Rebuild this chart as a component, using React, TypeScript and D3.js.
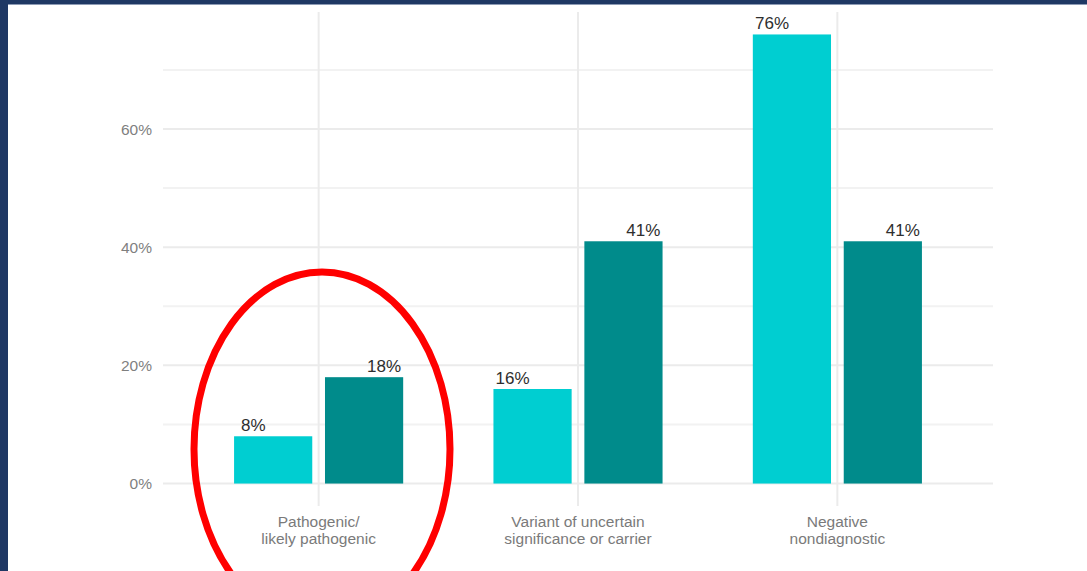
import React from "react";
import * as d3 from "d3";

const categories = ["Pathogenic/\nlikely pathogenic", "Variant of uncertain\nsignificance or carrier", "Negative\nnondiagnostic"];
const seriesNames = ["Group 1", "Group 2"];
const series1 = [8, 16, 76];
const series2 = [18, 41, 41];
const yMajorTicks = [0, 20, 40, 60];
const yMinorTicks = [10, 30, 50, 70];
const colors = ["#00CED1", "#008B8B"];

const W = 1087;
const H = 571;
const plotL = 163;
const plotR = 993;
const plotT = 12;
const plotB = 506;

export default function App() {
  const values = [series1, series2];
  const yMax = d3.max([...series1, ...series2]) as number;
  const pad = yMax * 0.05;
  const y = d3.scaleLinear().domain([-pad, yMax + pad]).range([plotB, plotT]);
  const x = d3.scalePoint<string>().domain(categories).range([plotL, plotR]).padding(0.6);
  const step = x.step();
  const sub = d3.scaleBand<string>().domain(seriesNames).range([-0.326 * step, 0.326 * step]).paddingInner(0.14);
  const lab = d3.scalePoint<string>().domain(seriesNames).range([-0.252 * step, 0.252 * step]);
  const font = "'Liberation Sans', Arial, sans-serif";

  return (
    <svg width={W} height={H} style={{ position: "absolute", left: 0, top: 0, display: "block" }} fontFamily={font}>
      <rect x={0} y={0} width={W} height={H} fill="#ffffff" />
      <rect x={0} y={0} width={8} height={H} fill="#1f3864" />
      <rect x={0} y={0} width={W} height={4} fill="#1f3864" />
      <line x1={8} x2={W} y1={4.5} y2={4.5} stroke="#8d9bb5" strokeWidth={1} />
      {yMinorTicks.map((t) => (
        <line key={"mi" + t} x1={plotL} x2={plotR} y1={y(t)} y2={y(t)} stroke="#f2f2f2" strokeWidth={2} />
      ))}
      {yMajorTicks.map((t) => (
        <line key={"ma" + t} x1={plotL} x2={plotR} y1={y(t)} y2={y(t)} stroke="#ebebeb" strokeWidth={2} />
      ))}
      {categories.map((c) => (
        <line key={"v" + c} x1={x(c)} x2={x(c)} y1={plotT} y2={plotB} stroke="#ebebeb" strokeWidth={2} />
      ))}
      {yMajorTicks.map((t) => (
        <text key={"yt" + t} x={152} y={y(t) + 5.5} textAnchor="end" fontSize={15.5} fill="#7f7f7f">
          {t + "%"}
        </text>
      ))}
      {categories.map((c, ci) =>
        seriesNames.map((s, si) => {
          const v = values[si][ci];
          const cx = x(c) as number;
          return (
            <g key={c + s}>
              <rect x={cx + (sub(s) as number)} y={y(v)} width={sub.bandwidth()} height={y(0) - y(v)} fill={colors[si]} />
              <text x={cx + (lab(s) as number)} y={y(v) - 5} textAnchor="middle" fontSize={17} fill="#2e2e2e">
                {v + "%"}
              </text>
            </g>
          );
        })
      )}
      {categories.map((c) => (
        <text key={"xl" + c} x={x(c)} y={527} textAnchor="middle" fontSize={15.5} fill="#7a7a7a">
          {c.split("\n").map((line, i) => (
            <tspan key={i} x={x(c)} dy={i === 0 ? 0 : 16.5}>
              {line}
            </tspan>
          ))}
        </text>
      ))}
      <ellipse cx={322} cy={449} rx={128} ry={177} fill="none" stroke="#ff0000" strokeWidth={7} />
    </svg>
  );
}
